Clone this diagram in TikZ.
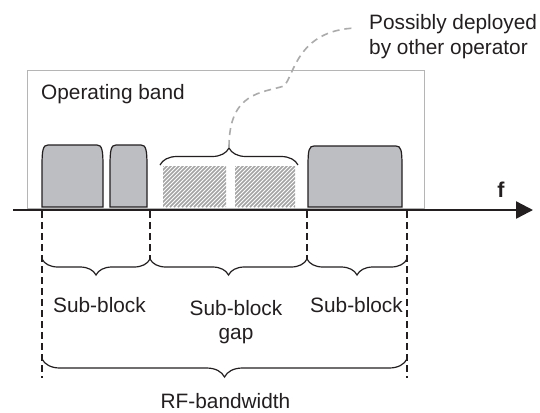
\documentclass[tikz,border=0pt]{standalone}
\usepackage{fontspec}
\setmainfont{Liberation Sans}
\usetikzlibrary{arrows.meta,decorations.pathreplacing}
\definecolor{blkfill}{HTML}{BDBEC1}
\definecolor{hatchc}{HTML}{A3A3A3}
\definecolor{curvec}{HTML}{ABABAB}
\definecolor{boxc}{HTML}{B5B5B5}
\definecolor{ink}{HTML}{231F20}
\begin{document}
\begin{tikzpicture}[x=1bp,y=-1bp,
  lbl/.style={font=\fontsize{20.9}{24.5}\selectfont, text=ink, inner sep=0pt},
  vdash/.style={ink, line width=1.4bp, dash pattern=on 7bp off 4bp},
  brc/.style={ink, line width=1.2bp, decorate, decoration={brace, amplitude=#1}},
  blockline/.style={ink, line width=1.2bp, fill=blkfill},
  hatchline/.style={hatchc, line width=1.5bp},
  gcurve/.style={curvec, line width=1.6bp, dash pattern=on 7bp off 5bp}]
\useasboundingbox (0,0) rectangle (540,412);
\fill[white] (0,0) rectangle (540,412);

% operating band
\node[draw=boxc, line width=1.3bp, minimum width=397bp, minimum height=138bp,
      anchor=north west, inner sep=0pt] (band) at (27,70) {};
\node[lbl, anchor=base west] (bandlbl) at (41,99) {Operating band};

% occupied blocks
\foreach \a/\b/\t in {42/103/145, 110/147/145, 308/402/146}{
  \draw[blockline] (\a,207) -- (\a,166)
     .. controls (\a,150) and ({\a+1},\t) .. ({\a+6},\t) -- ({\b-6},\t)
     .. controls ({\b-1},\t) and (\b,150) .. (\b,166) -- (\b,207) -- cycle;
}

% hatched blocks
\foreach \a/\b in {163/226, 235/295}{
  \begin{scope}
    \clip (\a,166) rectangle (\b,207);
    \foreach \i in {0,...,27}{
      \draw[hatchline] ({\a-45+\i*4.0},207) -- ++(50,-50);
    }
  \end{scope}
}

% brace over hatched blocks
\draw[brc=17bp] (160,165) -- (298,165);
\coordinate (btip) at (229,147);

% frequency axis
\coordinate (ax0) at (13,210);
\coordinate (ax1) at (533,210);
\draw[ink, line width=2.4bp, -{Triangle[length=17bp,width=17bp]}] (ax0) -- (ax1);
\node[lbl, font=\fontsize{21.5}{24.5}\selectfont\bfseries, anchor=base] (f) at (501,197) {f};

% dashed verticals
\coordinate (v1t) at (42,211);  \coordinate (v1b) at (42,378);
\coordinate (v2t) at (150,211); \coordinate (v2b) at (150,260);
\coordinate (v3t) at (307,211); \coordinate (v3b) at (307,260);
\coordinate (v4t) at (407,211); \coordinate (v4b) at (407,378);
\draw[vdash] (v1t) -- (v1b);
\draw[vdash] (v2t) -- (v2b);
\draw[vdash] (v3t) -- (v3b);
\draw[vdash] (v4t) -- (v4b);

% sub-braces (pointing down)
\draw[brc=16bp] (150,259) -- (42,259);
\draw[brc=16bp] (307,259) -- (150,259);
\draw[brc=16bp] (407,259) -- (307,259);
\draw[brc=18bp] (407,359) -- (42,359);

% labels
\node[lbl, anchor=base] (sb1) at (99.5,312) {Sub-block};
\node[lbl, anchor=north, align=center] (sbg) at (236,300) {Sub-block\\gap};
\node[lbl, anchor=base] (sb3) at (356.5,312) {Sub-block};
\node[lbl, anchor=base] (rf) at (225.5,408) {RF-bandwidth};

% other operator annotation
\node[lbl, anchor=base west] (pd1) at (369,29) {Possibly deployed};
\node[lbl, anchor=base west] (pd2) at (369,54) {by other operator};
\coordinate (ce) at (356,28);
\draw[gcurve] (btip) .. controls (229,92) and (262,93) .. (284,86)
   .. controls (294,76) and (297,30) .. (ce);
\end{tikzpicture}
\end{document}
